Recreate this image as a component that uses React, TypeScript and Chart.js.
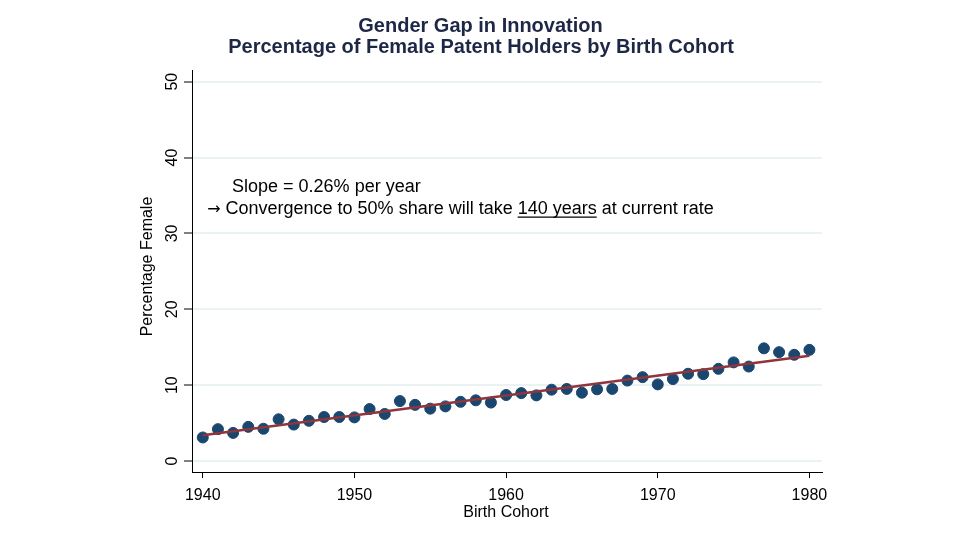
import React, { useEffect, useRef } from "react";
import { Chart, registerables } from "chart.js";

Chart.register(...registerables);

const cohortYears = [
  1940, 1941, 1942, 1943, 1944, 1945, 1946, 1947, 1948, 1949,
  1950, 1951, 1952, 1953, 1954, 1955, 1956, 1957, 1958, 1959,
  1960, 1961, 1962, 1963, 1964, 1965, 1966, 1967, 1968, 1969,
  1970, 1971, 1972, 1973, 1974, 1975, 1976, 1977, 1978, 1979, 1980,
];
const femaleShare = [
  3.1, 4.2, 3.7, 4.5, 4.25, 5.5, 4.8, 5.3, 5.8, 5.8,
  5.75, 6.85, 6.2, 7.9, 7.4, 6.9, 7.2, 7.8, 8.0, 7.7,
  8.7, 8.95, 8.65, 9.4, 9.5, 9.0, 9.45, 9.5, 10.6, 11.05,
  10.1, 10.8, 11.5, 11.45, 12.15, 13.0, 12.45, 14.85, 14.35, 14.0, 14.65,
];
const fitYears = [1940, 1980];
const fitValues = [3.38, 13.88];
const yTickValues = [0, 10, 20, 30, 40, 50];
const xTickValues = [1940, 1950, 1960, 1970, 1980];
const titleLines = [
  "Gender Gap in Innovation",
  "Percentage of Female Patent Holders by Birth Cohort",
];
const yAxisTitle = "Percentage Female";
const xAxisTitle = "Birth Cohort";
const noteLine1 = "Slope = 0.26% per year";
const noteArrow = "\u2192";
const noteLine2Pre = "Convergence to 50% share will take ";
const noteLine2Under = "140 years";
const noteLine2Post = " at current rate";
// annotation anchors in data units
const noteX1 = 1941.93;
const noteXArrow = 1940.3;
const noteX2 = 1941.5;
const noteY1 = 35.4;
const noteY2 = 32.55;

const FONT = '"Liberation Sans", Arial, sans-serif';

const textPlugin = {
  id: "textPlugin",
  afterDraw(chart: any) {
    const ctx = chart.ctx as CanvasRenderingContext2D;
    const xs = chart.scales.x;
    const ys = chart.scales.y;
    const area = chart.chartArea;
    ctx.save();
    // title
    ctx.fillStyle = "#1e2846";
    ctx.font = `bold 20px ${FONT}`;
    ctx.textAlign = "center";
    ctx.textBaseline = "alphabetic";
    ctx.fillText(titleLines[0], 480.5, 31.5);
    ctx.fillText(titleLines[1], 481, 52.5);

    // y tick labels, rotated
    ctx.fillStyle = "#000";
    ctx.font = `16px ${FONT}`;
    ctx.textAlign = "center";
    ctx.textBaseline = "middle";
    yTickValues.forEach((v) => {
      const py = ys.getPixelForValue(v);
      ctx.save();
      ctx.translate(area.left - 19, py);
      ctx.rotate(-Math.PI / 2);
      ctx.fillText(String(v), 0, 0);
      ctx.restore();
    });

    // y axis title
    ctx.save();
    ctx.translate(area.left - 44, (area.top + area.bottom) / 2 - 4.5);
    ctx.rotate(-Math.PI / 2);
    ctx.fillText(yAxisTitle, 0, 0);
    ctx.restore();

    // x axis title
    ctx.fillText(xAxisTitle, (area.left + area.right) / 2 - 1, 513);

    // annotation
    ctx.font = `18px ${FONT}`;
    ctx.textAlign = "left";
    ctx.textBaseline = "alphabetic";
    const x1 = xs.getPixelForValue(noteX1);
    const y1 = ys.getPixelForValue(noteY1);
    ctx.fillText(noteLine1, x1, y1);
    const y2 = ys.getPixelForValue(noteY2);
    ctx.save();
    ctx.font = `16px "DejaVu Sans", sans-serif`;
    ctx.fillText(noteArrow, xs.getPixelForValue(noteXArrow), y2);
    ctx.restore();
    const x2 = xs.getPixelForValue(noteX2);
    ctx.fillText(noteLine2Pre, x2, y2);
    const w1 = ctx.measureText(noteLine2Pre).width;
    ctx.fillText(noteLine2Under, x2 + w1, y2);
    const w2 = ctx.measureText(noteLine2Under).width;
    ctx.fillText(noteLine2Post, x2 + w1 + w2, y2);
    ctx.strokeStyle = "#000";
    ctx.lineWidth = 1.3;
    ctx.beginPath();
    ctx.moveTo(x2 + w1, y2 + 3);
    ctx.lineTo(x2 + w1 + w2, y2 + 3);
    ctx.stroke();
    ctx.restore();
  },
};

export default function App() {
  const ref = useRef<HTMLCanvasElement | null>(null);
  useEffect(() => {
    if (!ref.current) return;
    const chart = new Chart(ref.current, {
      type: "scatter",
      data: {
        datasets: [
          {
            type: "scatter",
            label: "share",
            data: cohortYears.map((x, i) => ({ x, y: femaleShare[i] })),
            backgroundColor: "#1a476f",
            borderColor: "#1a476f",
            pointRadius: 5.5,
            pointHoverRadius: 5.5,
            order: 2,
          },
          {
            type: "line",
            label: "fit",
            data: fitYears.map((x, i) => ({ x, y: fitValues[i] })),
            borderColor: "#90353b",
            borderWidth: 2.5,
            pointRadius: 0,
            fill: false,
            order: 1,
          } as any,
        ],
      },
      options: {
        animation: false,
        responsive: true,
        maintainAspectRatio: false,
        layout: { padding: { top: 70, right: 138, left: 0, bottom: 0 } },
        plugins: {
          legend: { display: false },
          title: { display: false },
          tooltip: { enabled: false },
        },
        scales: {
          x: {
            type: "linear",
            min: 1939.29,
            max: 1980.83,
            afterFit: (s: any) => {
              s.height = 68;
            },
            afterBuildTicks: (s: any) => {
              s.ticks = xTickValues.map((v) => ({ value: v }));
            },
            ticks: {
              stepSize: 10,
              includeBounds: false,
              color: "#000",
              font: { family: FONT, size: 16 },
              padding: 8,
              maxRotation: 0,
              callback: (v: any) => String(v),
            },
            grid: {
              drawOnChartArea: false,
              drawTicks: true,
              tickLength: 6,
              tickColor: "#000",
              tickWidth: 1,
            },
            border: { display: true, color: "#000", width: 1 },
          },
          y: {
            type: "linear",
            min: -1.45,
            max: 51.54,
            afterFit: (s: any) => {
              s.width = 192;
            },
            afterBuildTicks: (s: any) => {
              s.ticks = yTickValues.map((v) => ({ value: v }));
            },
            ticks: { display: false, stepSize: 10, includeBounds: false },
            grid: {
              color: "#eaf2f3",
              lineWidth: 2,
              drawTicks: true,
              tickLength: 8,
              tickColor: "#000",
              tickWidth: 1,
            },
            border: { display: true, color: "#000", width: 1 },
          },
        },
      },
      plugins: [textPlugin],
    });
    return () => chart.destroy();
  }, []);
  return (
    <div style={{ position: "absolute", left: 0, top: 0, width: 960, height: 540, background: "#fff" }}>
      <canvas ref={ref} />
    </div>
  );
}
